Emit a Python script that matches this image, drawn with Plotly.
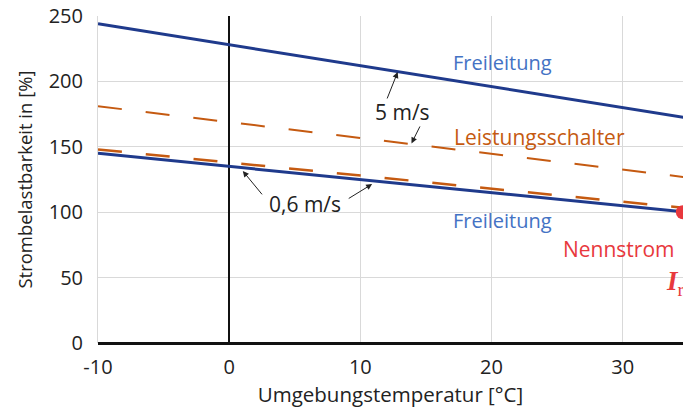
import plotly.graph_objects as go

# Data
temp = [-10, 35]
frei_5ms = [244, 172]
schalter_5ms = [181, 126.5]
frei_06ms = [145, 100]
schalter_06ms = [148, 103]
nenn_x = [34.59]
nenn_y = [100]
x_ticks = [-10, 0, 10, 20, 30]
x_ticklabels = ["-10", "0", "10", "20", "30"]

NAVY = "#1F3A8C"
ORANGE = "#C55A11"
BLUE_TXT = "#4472C4"
RED = "#E8383D"
FONT = "Open Sans"

fig = go.Figure()
fig.add_trace(go.Scatter(x=temp, y=frei_5ms, mode="lines", line=dict(color=NAVY, width=3)))
fig.add_trace(go.Scatter(x=temp, y=schalter_5ms, mode="lines",
                         line=dict(color=ORANGE, width=2, dash="24px,24px")))
fig.add_trace(go.Scatter(x=temp, y=frei_06ms, mode="lines", line=dict(color=NAVY, width=3)))
fig.add_trace(go.Scatter(x=temp, y=schalter_06ms, mode="lines",
                         line=dict(color=ORANGE, width=2.5, dash="24px,24px")))
fig.add_trace(go.Scatter(x=nenn_x, y=nenn_y, mode="markers", cliponaxis=False,
                         marker=dict(color=RED, size=14)))

def txt(x, y, s, color, size=21, xanchor="center", family=FONT):
    fig.add_annotation(x=x, y=y, text=s, showarrow=False, xanchor=xanchor,
                       font=dict(family=family, size=size, color=color))

def arrow(x, y, ax, ay):
    fig.add_annotation(x=x, y=y, ax=ax, ay=ay, axref="x", ayref="y", text="",
                       showarrow=True, arrowhead=2, arrowsize=1.2, arrowwidth=1,
                       arrowcolor="#222")

txt(20.85, 214.5, "Freileitung", BLUE_TXT, size=20)
txt(13.2, 176.6, "5 m/s", "#222")
txt(23.66, 157.5, "Leistungsschalter", ORANGE)
txt(5.8, 106, "0,6 m/s", "#222")
txt(20.85, 93.3, "Freileitung", BLUE_TXT, size=20)
txt(29.7, 71.9, "Nennstrom", RED)
txt(33.15, 45.5, "<b><i>I</i></b><sub>r</sub>", RED, size=27, xanchor="left",
    family="Liberation Serif")

arrow(12.85, 207.2, 12.0, 185.8)
arrow(13.9, 152.6, 14.6, 166.7)
arrow(1.04, 131.5, 2.6, 112.5)
arrow(10.9, 121.5, 9.0, 109.8)

fig.update_layout(
    width=683, height=412,
    margin=dict(l=98, r=0, t=16, b=69),
    plot_bgcolor="white", paper_bgcolor="white",
    showlegend=False,
    font=dict(family=FONT, size=20, color="#222"),
)
fig.update_xaxes(range=[-10, 34.6], tickvals=x_ticks, ticktext=x_ticklabels,
                 showgrid=True, gridcolor="#D9D9D9", gridwidth=1,
                 zeroline=True, zerolinecolor="#111", zerolinewidth=2,
                 showline=False, ticks="", ticklabelstandoff=10,
                 title=dict(text="Umgebungstemperatur [°C]", standoff=1,
                            font=dict(size=20.5)),
                 tickfont=dict(size=20))
fig.update_yaxes(range=[0, 250], dtick=50, showgrid=True,
                 gridcolor="#D9D9D9", gridwidth=1,
                 zeroline=True, zerolinecolor="#111", zerolinewidth=2.5,
                 showline=True, linecolor="#D9D9D9", linewidth=1,
                 ticks="", ticklabelstandoff=10,
                 title=dict(text="Strombelastbarkeit in [%]", standoff=11,
                            font=dict(size=18.5)),
                 tickfont=dict(size=20))

fig.write_html("out.html")
